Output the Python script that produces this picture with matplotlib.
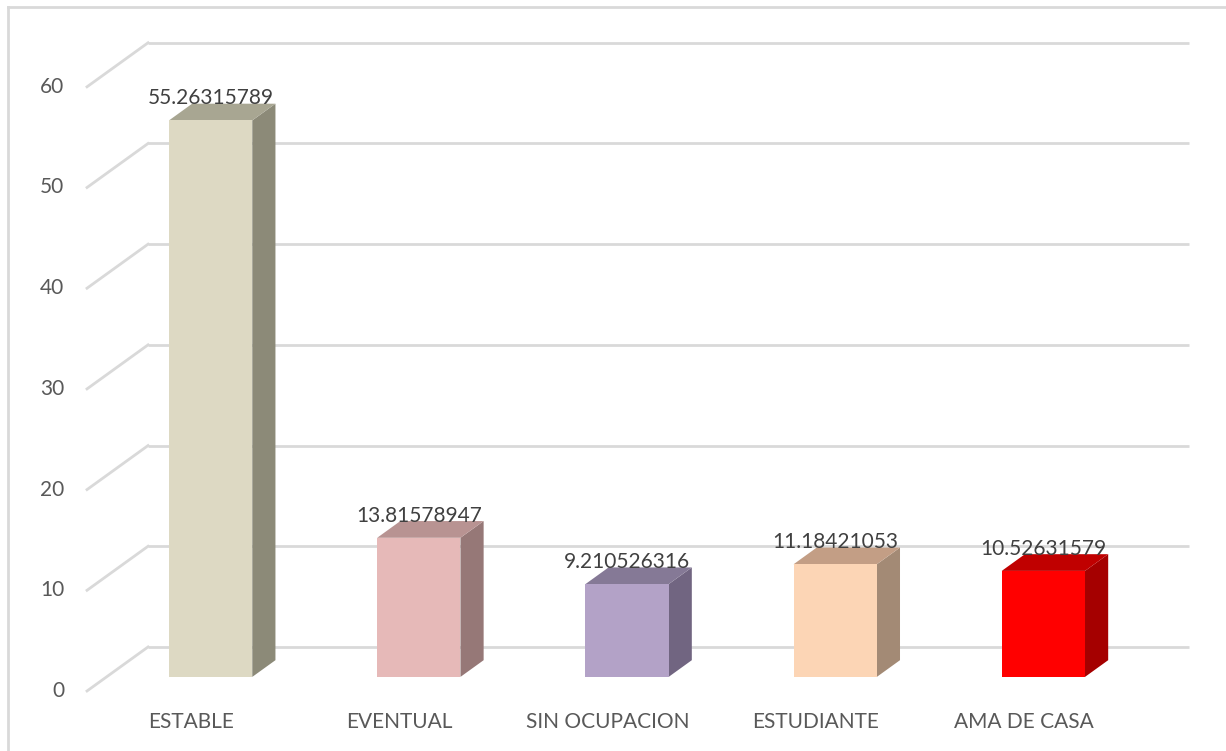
import matplotlib.pyplot as plt
from matplotlib.patches import Polygon
from matplotlib.lines import Line2D

plt.rcParams['font.family'] = ['Lato', 'DejaVu Sans']

categorias = ['ESTABLE', 'EVENTUAL', 'SIN OCUPACION', 'ESTUDIANTE', 'AMA DE CASA']
porcentajes = [55.26315789, 13.81578947, 9.210526316, 11.18421053, 10.52631579]
etiquetas = ['55.26315789', '13.81578947', '9.210526316', '11.18421053', '10.52631579']
ticks_y = [0, 10, 20, 30, 40, 50, 60]

# colores: cara frontal, lateral, superior
c_frente = ['#DDD9C3', '#E6B9B8', '#B3A2C7', '#FCD5B5', '#FF0000']
c_lado = ['#8C8A78', '#967877', '#716581', '#A38A75', '#A50000']
c_tope = ['#A8A692', '#B89392', '#857996', '#C39E85', '#C00000']

GRIS = '#D9D9D9'
TEXTO = '#595959'

# profundidad del "3D" en unidades de datos
DX = 0.293      # desplazamiento horizontal (en categorias)
DY = 4.37       # desplazamiento vertical (en unidades del eje)
D0, D1 = 0.32, 0.70   # posicion de la barra dentro de la profundidad
ANCHO = 0.40

fig = plt.figure(figsize=(12.26, 7.51), dpi=100)
ax = fig.add_axes([0, 0, 1, 1])
ax.set_xlim(-0.918, 4.971)
ax.set_ylim(-5.96, 68.62)
ax.axis('off')

n = len(categorias)
x_izq = -0.5

# pared del fondo y pared lateral
for t in ticks_y:
    ax.plot([x_izq + DX, x_izq + n + DX], [t + DY, t + DY], color=GRIS, lw=2, zorder=1,
            solid_capstyle='butt')
    ax.plot([x_izq, x_izq + DX], [t, t + DY], color=GRIS, lw=2, zorder=1)
    ax.text(x_izq - 0.11, t, str(t), ha='right', va='center', fontsize=15, color=TEXTO)

# barras
for i, v in enumerate(porcentajes):
    x0 = i - ANCHO / 2 + D0 * DX
    x1 = x0 + ANCHO
    y0 = D0 * DY
    dx = (D1 - D0) * DX
    dy = (D1 - D0) * DY
    frente = [(x0, y0), (x1, y0), (x1, y0 + v), (x0, y0 + v)]
    lado = [(x1, y0), (x1 + dx, y0 + dy), (x1 + dx, y0 + v + dy), (x1, y0 + v)]
    tope = [(x0, y0 + v), (x1, y0 + v), (x1 + dx, y0 + v + dy), (x0 + dx, y0 + v + dy)]
    ax.add_patch(Polygon(lado, closed=True, fc=c_lado[i], ec='none', zorder=3))
    ax.add_patch(Polygon(tope, closed=True, fc=c_tope[i], ec='none', zorder=3))
    ax.add_patch(Polygon(frente, closed=True, fc=c_frente[i], ec='none', zorder=4))
    ax.text((x0 + x1) / 2, y0 + v + 2.2, etiquetas[i], ha='center', va='center',
            fontsize=15, color='#404040', zorder=5)
    ax.text(i, -3.1, categorias[i], ha='center', va='center', fontsize=15, color=TEXTO)

# borde del area del grafico
fig.add_artist(Line2D([7.5 / 1226, 7.5 / 1226], [0, 1 - 7 / 751], color=GRIS, lw=2))
fig.add_artist(Line2D([7.5 / 1226, 1], [1 - 7 / 751, 1 - 7 / 751], color=GRIS, lw=2))

fig.savefig('out.png', dpi=100)
